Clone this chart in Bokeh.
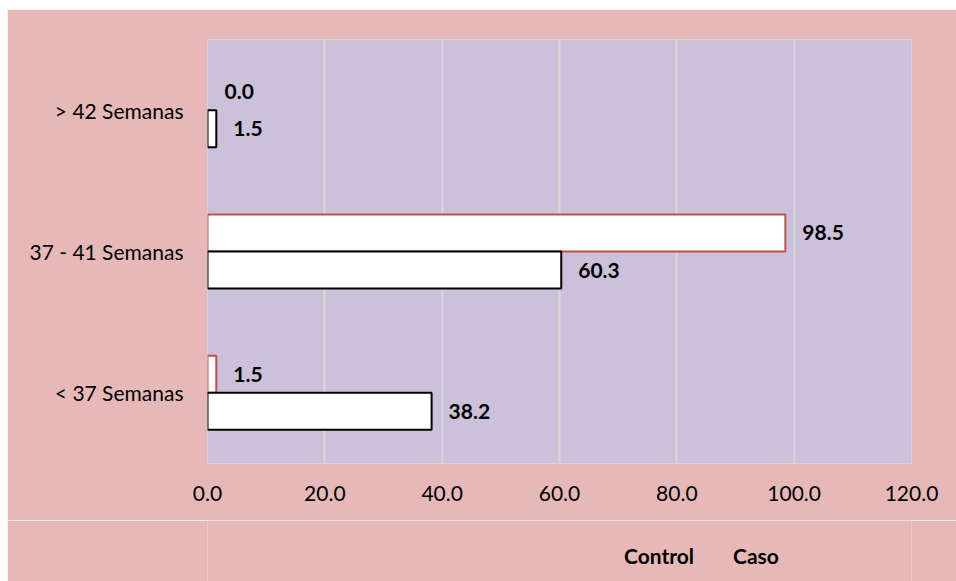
from bokeh.plotting import figure
from bokeh.layouts import column
from bokeh.models import (ColumnDataSource, FactorRange, LabelSet, Legend, LegendItem,
                          FixedTicker, NumeralTickFormatter)
from bokeh.core.properties import value
from bokeh.transform import dodge
from bokeh.embed import file_html
from bokeh.resources import INLINE

# Gestational age groups, bottom to top
categories = ["< 37 Semanas", "37 - 41 Semanas", "> 42 Semanas"]
control = [1.5, 98.5, 0.0]
caso = [38.2, 60.3, 1.5]
x_ticks = [0, 20, 40, 60, 80, 100, 120]

FONT = "Lato"
SIZE = "21px"
PINK = "#E6B9B8"
LILAC = "#CCC1DA"
RED = "#C0504D"
CLEAR = "rgba(0,0,0,0)"

source = ColumnDataSource(dict(
    cat=categories,
    control=control,
    caso=caso,
    control_txt=[f"{v:.1f}" for v in control],
    caso_txt=[f"{v:.1f}" for v in caso],
    # zero-length bars get no outline
    control_line=[RED if v > 0 else CLEAR for v in control],
    caso_line=["black" if v > 0 else CLEAR for v in caso],
))

p = figure(frame_width=704, frame_height=424, y_range=FactorRange(*categories), x_range=(0, 120),
           output_backend="svg", toolbar_location=None,
           min_border_left=200, min_border_right=45, min_border_top=30, min_border_bottom=57)
p.margin = (9, 0, 0, 7)
p.background_fill_color = LILAC
p.border_fill_color = PINK
p.outline_line_color = None

off = 0.131
h = 0.262
p.hbar(y=dodge("cat", off, range=p.y_range), right="control", left=0, height=h,
       source=source, fill_color="white", line_color="control_line", line_width=2)
p.hbar(y=dodge("cat", -off, range=p.y_range), right="caso", left=0, height=h,
       source=source, fill_color="white", line_color="caso_line", line_width=2)

for col, txt, o in [("control", "control_txt", off), ("caso", "caso_txt", -off)]:
    p.add_layout(LabelSet(x=col, y=dodge("cat", o, range=p.y_range), text=txt, source=source,
                          x_offset=17, text_baseline="middle", text_font=value(FONT),
                          text_font_size=SIZE, text_font_style="bold", text_color="black"))

# Axes
p.xaxis.ticker = FixedTicker(ticks=x_ticks)
p.xaxis.formatter = NumeralTickFormatter(format="0.0")
for ax in (p.xaxis[0], p.yaxis[0]):
    ax.axis_line_color = None
    ax.major_tick_line_color = None
    ax.minor_tick_line_color = None
    ax.major_tick_out = 0
    ax.major_tick_in = 0
    ax.minor_tick_out = 0
    ax.major_label_text_font = FONT
    ax.major_label_text_font_size = SIZE
    ax.major_label_text_color = "black"
p.xaxis.major_label_standoff = 22
p.yaxis.major_label_standoff = 24

p.xgrid.grid_line_color = "#D9D9D9"
p.xgrid.grid_line_width = 2
p.ygrid.grid_line_color = None

# Legend strip under the chart, styled like the bars
leg = figure(width=949, height=61, x_range=(0, 1), y_range=(0, 1),
             output_backend="svg", toolbar_location=None,
             x_axis_type=None, y_axis_type=None, min_border=0)
leg.margin = (0, 0, 0, 7)
leg.background_fill_color = PINK
leg.border_fill_color = PINK
leg.outline_line_color = None
k_control = leg.hbar(y=[], right=[], height=0.5, fill_color="white", line_color=RED, line_width=2)
k_caso = leg.hbar(y=[], right=[], height=0.5, fill_color="white", line_color="black", line_width=2)

legend = Legend(items=[LegendItem(label="Control", renderers=[k_control]),
                       LegendItem(label="Caso", renderers=[k_caso])],
                orientation="horizontal", location=(397, 13),
                label_text_font=FONT, label_text_font_size=SIZE, label_text_font_style="bold",
                label_text_color="black",
                background_fill_alpha=0, border_line_color=None,
                glyph_width=14, glyph_height=14, label_standoff=6, spacing=19,
                padding=10, margin=0)
leg.add_layout(legend)

layout = column(p, leg, spacing=0)
open("out.html", "w").write(file_html(layout, INLINE))
